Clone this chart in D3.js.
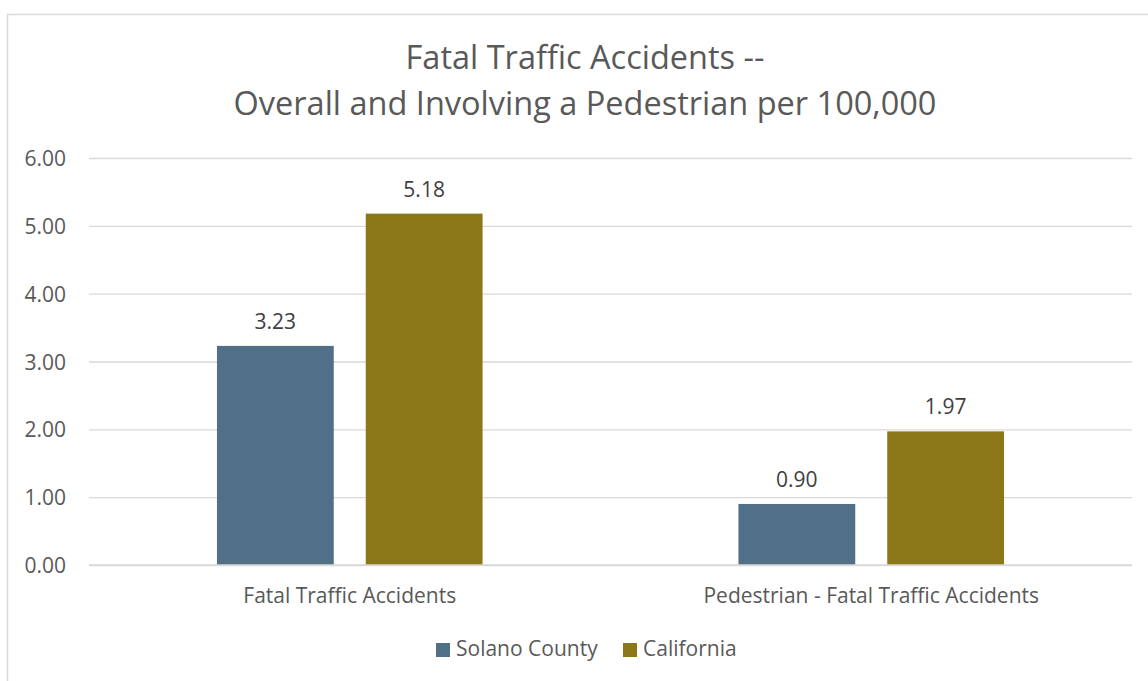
<!DOCTYPE html>
<html>
<head>
<meta charset="utf-8">
<script src="https://cdn.jsdelivr.net/npm/d3@7"></script>
<style>
  body { margin: 0; background: #fff; }
  text { font-family: "Open Sans", "Noto Sans", sans-serif; }
</style>
</head>
<body>
<svg id="chart" width="1148" height="681"></svg>
<script>
const categories = ['Fatal Traffic Accidents', 'Pedestrian - Fatal Traffic Accidents'];
const seriesNames = ['Solano County', 'California'];
const solanoValues = [3.23, 0.90];
const californiaValues = [5.18, 1.97];
const yTicks = [0, 1, 2, 3, 4, 5, 6];
const titleLines = ['Fatal Traffic Accidents --', 'Overall and Involving a Pedestrian per 100,000'];

const colors = ['#507087', '#8b7618'];
const textColor = '#595959';

const svg = d3.select('#chart');
const margin = { top: 158, right: 16, bottom: 116, left: 89 };
const width = 1148 - margin.left - margin.right;
const height = 681 - margin.top - margin.bottom;

// chart border (runs off right/bottom like the source screenshot)
svg.append('rect')
  .attr('x', 7.5).attr('y', 14.5)
  .attr('width', 1160).attr('height', 700)
  .attr('fill', 'none').attr('stroke', '#d9d9d9').attr('stroke-width', 1.5);

// title
svg.append('text')
  .attr('y', 68.5)
  .attr('text-anchor', 'middle')
  .attr('fill', textColor)
  .style('font-size', '32.5px')
  .selectAll('tspan')
  .data(titleLines)
  .join('tspan')
  .attr('x', 585)
  .attr('dy', (d, i) => (i === 0 ? 0 : 46.5))
  .text((d) => d);

const g = svg.append('g').attr('transform', `translate(${margin.left},${margin.top})`);

const y = d3.scaleLinear().domain([0, 6]).range([height, 0]);
const x0 = d3.scaleBand().domain(categories).range([0, width]).padding(0);
const x1 = d3.scaleBand().domain(seriesNames).range([0, x0.bandwidth()])
  .paddingInner(0.215).paddingOuter(0.86);

// gridlines + y labels
const yAxis = g.append('g')
  .call(d3.axisLeft(y).tickValues(yTicks).tickSize(-width).tickFormat(d3.format('.2f')));
yAxis.select('.domain').remove();
yAxis.selectAll('.tick line').attr('stroke', '#d9d9d9').attr('stroke-width', 1.3);
yAxis.selectAll('.tick text')
  .attr('x', -23).attr('dy', '0.36em').attr('fill', textColor)
  .style('font-size', '21px');

const rows = categories.map((c, i) => ({
  category: c,
  values: [
    { series: seriesNames[0], value: solanoValues[i] },
    { series: seriesNames[1], value: californiaValues[i] },
  ],
}));

const groups = g.selectAll('.group')
  .data(rows)
  .join('g')
  .attr('class', 'group')
  .attr('transform', (d) => `translate(${x0(d.category)},0)`);

groups.selectAll('rect')
  .data((d) => d.values)
  .join('rect')
  .attr('x', (d) => x1(d.series))
  .attr('y', (d) => y(d.value))
  .attr('width', x1.bandwidth())
  .attr('height', (d) => height - y(d.value))
  .attr('fill', (d, i) => colors[i]);

groups.selectAll('.label')
  .data((d) => d.values)
  .join('text')
  .attr('class', 'label')
  .attr('x', (d) => x1(d.series) + x1.bandwidth() / 2)
  .attr('y', (d) => y(d.value) - 17)
  .attr('text-anchor', 'middle')
  .attr('fill', '#404040')
  .style('font-size', '21px')
  .text((d) => d3.format('.2f')(d.value));

// x axis line
g.append('line')
  .attr('x1', 0).attr('x2', width)
  .attr('y1', height).attr('y2', height)
  .attr('stroke', '#d9d9d9').attr('stroke-width', 1.3);

g.selectAll('.cat')
  .data(categories)
  .join('text')
  .attr('class', 'cat')
  .attr('x', (d) => x0(d) + x0.bandwidth() / 2)
  .attr('y', height + 38)
  .attr('text-anchor', 'middle')
  .attr('fill', textColor)
  .style('font-size', '21px')
  .text((d) => d);

// legend
const legend = svg.append('g').attr('transform', 'translate(436,643)');
const legendX = [0, 187];
const items = legend.selectAll('g')
  .data(seriesNames)
  .join('g')
  .attr('transform', (d, i) => `translate(${legendX[i]},0)`);
items.append('rect')
  .attr('width', 14).attr('height', 14)
  .attr('fill', (d, i) => colors[i]);
items.append('text')
  .attr('x', 20).attr('y', 13)
  .attr('fill', textColor)
  .style('font-size', '21px')
  .text((d) => d);
</script>
</body>
</html>
